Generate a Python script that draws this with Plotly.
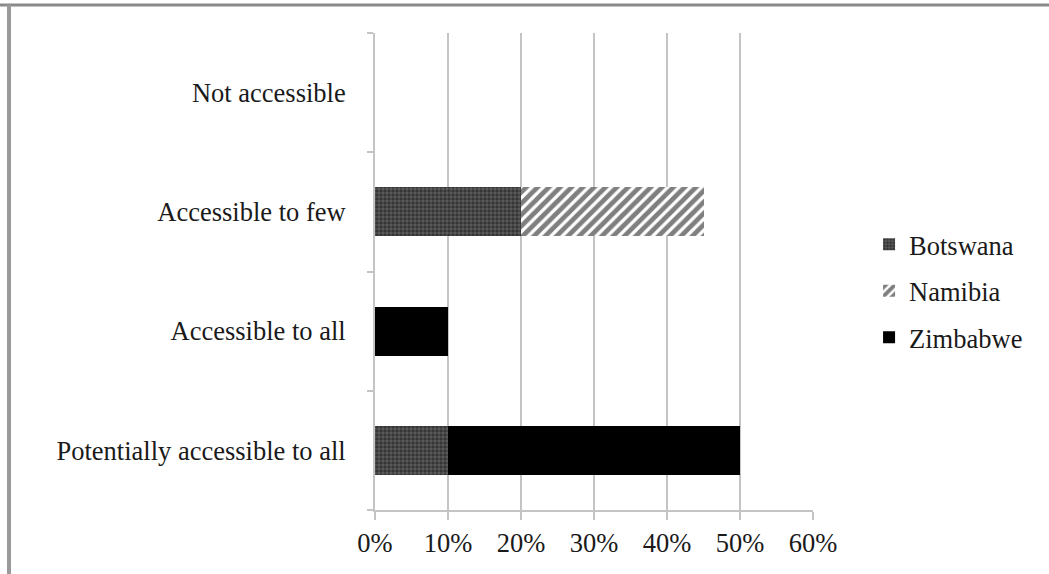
import plotly.graph_objects as go

categories = ["Potentially accessible to all", "Accessible to all", "Accessible to few", "Not accessible"]
botswana = [0.10, 0.0, 0.20, 0.0]
namibia = [0.0, 0.0, 0.25, 0.0]
zimbabwe = [0.40, 0.10, 0.0, 0.0]
x_ticks = [0, 0.1, 0.2, 0.3, 0.4, 0.5, 0.6]
x_tick_labels = ["0%", "10%", "20%", "30%", "40%", "50%", "60%"]

font_family = "Liberation Serif"
FS = 26.5

fig = go.Figure()
fig.add_trace(go.Bar(
    y=categories, x=botswana, name="Botswana", orientation="h", legendgroup="b",
    marker=dict(color="#2a2a2a", line=dict(width=0),
                pattern=dict(shape=".", bgcolor="#5e5e5e", fgcolor="#0e0e0e", size=4, solidity=0.6)),
))
fig.add_trace(go.Bar(
    y=categories, x=namibia, name="Namibia", orientation="h", legendgroup="n",
    marker=dict(color="black", line=dict(width=0),
                pattern=dict(shape="/", bgcolor="white", fgcolor="black", size=8, solidity=0.6)),
))
fig.add_trace(go.Bar(
    y=categories, x=zimbabwe, name="Zimbabwe", orientation="h", legendgroup="z",
    marker=dict(color="black", line=dict(width=0)),
))

fig.update_layout(
    barmode="stack",
    bargap=0.59,
    width=1049, height=574,
    margin=dict(l=375, r=236, t=33, b=64),
    paper_bgcolor="white", plot_bgcolor="white",
    font=dict(family=font_family, size=FS, color="#1a1a1a"),
    showlegend=True,
    legend=dict(x=1.128, xanchor="left", y=0.459, yanchor="middle",
                font=dict(family=font_family, size=FS, color="#1a1a1a"),
                traceorder="grouped", tracegroupgap=9, itemsizing="constant",
                bgcolor="rgba(0,0,0,0)"),
    xaxis=dict(range=[0, 0.6], tickvals=x_ticks, ticktext=x_tick_labels,
               showgrid=True, gridcolor="#c4c4c4", gridwidth=2,
               showline=True, linecolor="#c4c4c4", linewidth=2,
               ticks="outside", ticklen=8, tickcolor="#c4c4c4", tickwidth=2,
               zeroline=False, fixedrange=True),
    yaxis=dict(categoryorder="array", categoryarray=categories,
               showline=True, linecolor="#c4c4c4", linewidth=2,
               ticks="outside", ticklen=6, tickcolor="#c4c4c4", tickwidth=2,
               tickson="boundaries", showgrid=False, ticklabelstandoff=22,
               fixedrange=True),
    shapes=[
        dict(type="line", xref="paper", yref="paper", x0=-375/438, x1=(1049-375)/438,
             y0=(574-5)/477 - 64/477, y1=(574-5)/477 - 64/477,
             line=dict(color="#8a8a8a", width=3)),
        dict(type="line", xref="paper", yref="paper", x0=(9-375)/438, x1=(9-375)/438,
             y0=-64/477, y1=(574-5)/477 - 64/477,
             line=dict(color="#9a9a9a", width=4)),
    ],
)

fig.write_html("out.html")
